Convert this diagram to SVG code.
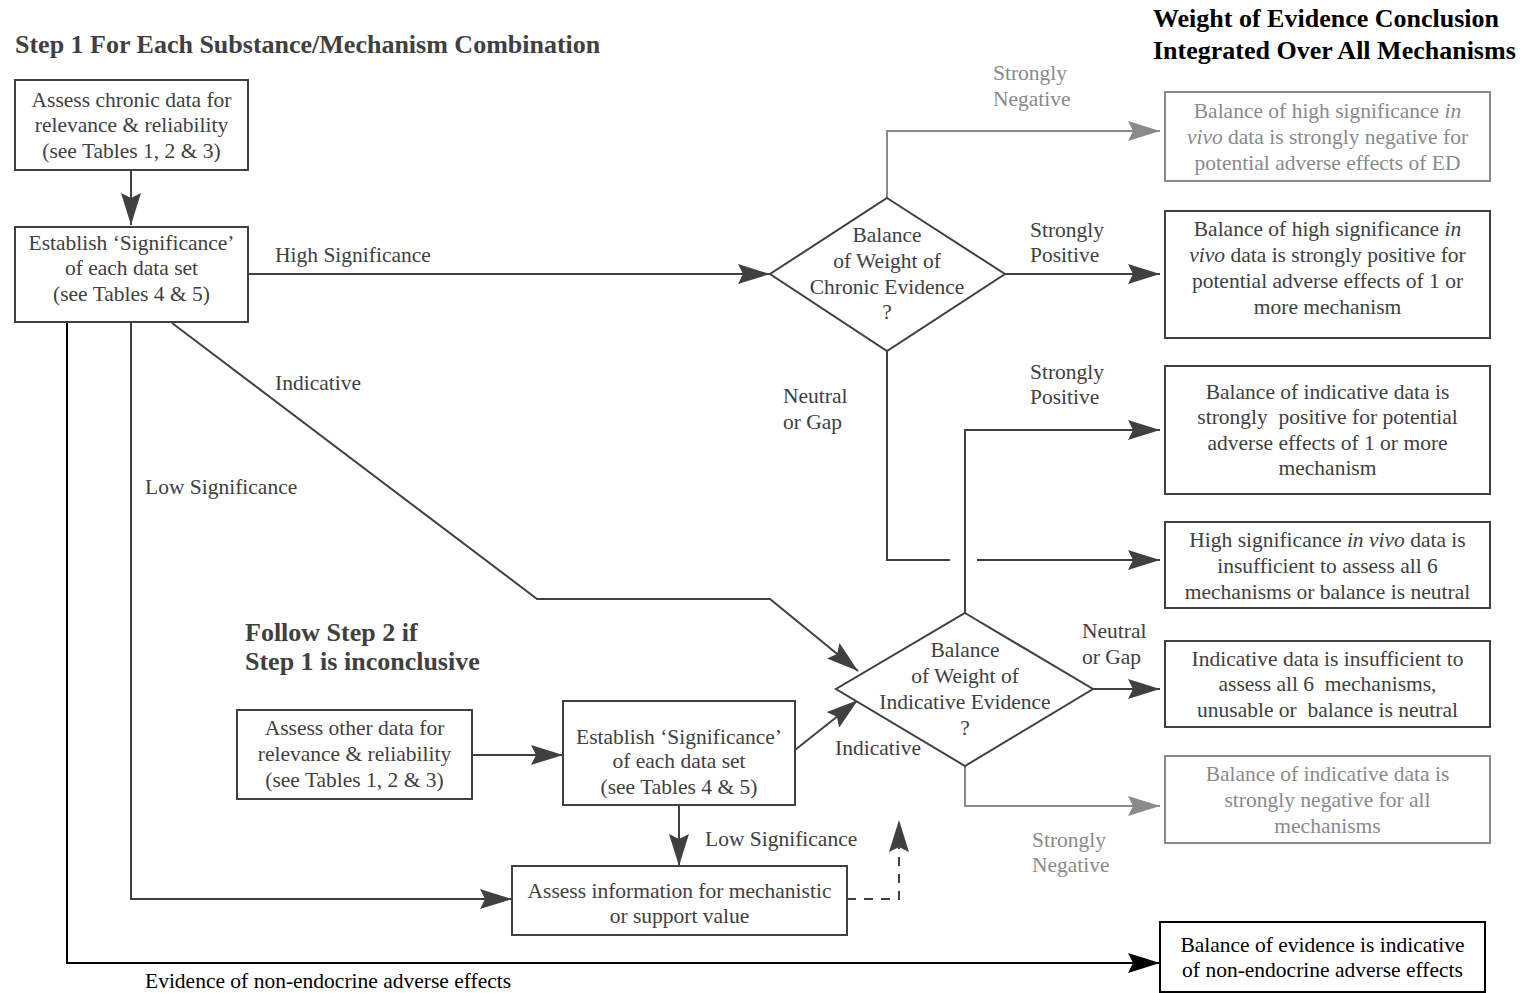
<svg xmlns="http://www.w3.org/2000/svg" width="1522" height="993" viewBox="0 0 1522 993">
<style>
text{font-family:"Liberation Serif","Times New Roman",serif;font-size:21.5px;fill:#404040}
.t{font-weight:bold;font-size:26px}
.c{text-anchor:middle}
.g{fill:#8a8a8a}
.k{fill:#000}
.box{fill:#fff;stroke:#404040;stroke-width:2}
.gbox{fill:#fff;stroke:#8a8a8a;stroke-width:2}
.kbox{fill:#fff;stroke:#000;stroke-width:2}
.ln{fill:none;stroke:#404040;stroke-width:2}
.gl{fill:none;stroke:#8a8a8a;stroke-width:2}
.kl{fill:none;stroke:#000;stroke-width:2}
.i{font-style:italic}
.p{white-space:pre}
</style>
<defs>
<marker id="a" viewBox="0 0 32 20" markerWidth="32" markerHeight="20" refX="32" refY="10" orient="auto" markerUnits="userSpaceOnUse"><path d="M0,0 L32,10 L0,20 L5,10 z" fill="#404040"/></marker>
<marker id="ag" viewBox="0 0 32 20" markerWidth="32" markerHeight="20" refX="32" refY="10" orient="auto" markerUnits="userSpaceOnUse"><path d="M0,0 L32,10 L0,20 L5,10 z" fill="#8a8a8a"/></marker>
<marker id="ak" viewBox="0 0 32 20" markerWidth="32" markerHeight="20" refX="32" refY="10" orient="auto" markerUnits="userSpaceOnUse"><path d="M0,0 L32,10 L0,20 L5,10 z" fill="#000"/></marker>
</defs>
<rect width="1522" height="993" fill="#fff"/>

<g id="titles">
<text class="t" x="15" y="53">Step 1 For Each Substance/Mechanism Combination</text>
<text class="t k" x="1153" y="27">Weight of Evidence Conclusion</text>
<text class="t k" x="1153" y="59">Integrated Over All Mechanisms</text>
<text class="t" x="245" y="641">Follow Step 2 if</text>
<text class="t" x="245" y="670">Step 1 is inconclusive</text>
</g>

<g id="connectors">
<path class="ln" d="M131,170 V225" marker-end="url(#a)"/>
<path class="ln" d="M248,274 H770" marker-end="url(#a)"/>
<path class="gl" d="M887,198 V131 H1160" marker-end="url(#ag)"/>
<path class="ln" d="M1005,274 H1160" marker-end="url(#a)"/>
<path class="ln" d="M887,351 V560 H950"/>
<path class="ln" d="M977,560 H1160" marker-end="url(#a)"/>
<path class="ln" d="M965,613 V430 H1160" marker-end="url(#a)"/>
<path class="ln" d="M1093,689 H1160" marker-end="url(#a)"/>
<path class="gl" d="M965,766 V806 H1160" marker-end="url(#ag)"/>
<path class="ln" d="M172,323 L537,599 H770 L858,671" marker-end="url(#a)"/>
<path class="ln" d="M131,322 V899 H512" marker-end="url(#a)"/>
<path class="kl" d="M67,322 V963 H1160" marker-end="url(#ak)"/>
<path class="ln" d="M472,755 H563" marker-end="url(#a)"/>
<path class="ln" d="M795,750 L858,700" marker-end="url(#a)"/>
<path class="ln" d="M679,805 V866" marker-end="url(#a)"/>
<path class="ln" d="M847,899 H899 V820" stroke-dasharray="9,8" marker-end="url(#a)"/>
</g>

<g id="labels">
<text x="275" y="262">High Significance</text>
<text class="g" x="993" y="80">Strongly</text>
<text class="g" x="993" y="106">Negative</text>
<text x="1030" y="237">Strongly</text>
<text x="1030" y="262">Positive</text>
<text x="783" y="403">Neutral</text>
<text x="783" y="429">or Gap</text>
<text x="1030" y="379">Strongly</text>
<text x="1030" y="404">Positive</text>
<text x="1082" y="638">Neutral</text>
<text x="1082" y="664">or Gap</text>
<text class="g" x="1032" y="847">Strongly</text>
<text class="g" x="1032" y="872">Negative</text>
<text x="275" y="390">Indicative</text>
<text x="145" y="494">Low Significance</text>
<text x="835" y="755">Indicative</text>
<text x="705" y="846">Low Significance</text>
<text class="k" x="145" y="988">Evidence of non-endocrine adverse effects</text>
</g>

<g id="assess-chronic">
<rect class="box" x="15" y="80" width="233" height="90"/>
<text class="c" x="131.5" y="107">Assess chronic data for</text>
<text class="c" x="131.5" y="132">relevance &amp; reliability</text>
<text class="c" x="131.5" y="158">(see Tables 1, 2 &amp; 3)</text>
</g>

<g id="establish-chronic">
<rect class="box" x="15" y="227" width="233" height="95"/>
<text class="c" x="131.5" y="250">Establish ‘Significance’</text>
<text class="c" x="131.5" y="275">of each data set</text>
<text class="c" x="131.5" y="301">(see Tables 4 &amp; 5)</text>
</g>

<g id="chronic-diamond">
<polygon class="box" points="887,198 1005,274 887,351 770,274"/>
<text class="c" x="887" y="242">Balance</text>
<text class="c" x="887" y="268">of Weight of</text>
<text class="c" x="887" y="294">Chronic Evidence</text>
<text class="c" x="887" y="319">?</text>
</g>

<g id="out-chronic-negative">
<rect class="gbox" x="1165" y="92" width="325" height="89"/>
<text class="c g" x="1327.5" y="118">Balance of high significance <tspan class="i">in</tspan></text>
<text class="c g" x="1327.5" y="144"><tspan class="i">vivo</tspan> data is strongly negative for</text>
<text class="c g" x="1327.5" y="170">potential adverse effects of ED</text>
</g>

<g id="out-chronic-positive">
<rect class="box" x="1165" y="211" width="325" height="127"/>
<text class="c" x="1327.5" y="236">Balance of high significance <tspan class="i">in</tspan></text>
<text class="c" x="1327.5" y="262"><tspan class="i">vivo</tspan> data is strongly positive for</text>
<text class="c" x="1327.5" y="288">potential adverse effects of 1 or</text>
<text class="c" x="1327.5" y="314">more mechanism</text>
</g>

<g id="out-indicative-positive">
<rect class="box" x="1165" y="366" width="325" height="128"/>
<text class="c" x="1327.5" y="399">Balance of indicative data is</text>
<text class="c p" x="1327.5" y="424">strongly  positive for potential</text>
<text class="c" x="1327.5" y="450">adverse effects of 1 or more</text>
<text class="c" x="1327.5" y="475">mechanism</text>
</g>

<g id="out-chronic-neutral">
<rect class="box" x="1165" y="522" width="325" height="86"/>
<text class="c" x="1327.5" y="547">High significance <tspan class="i">in vivo</tspan> data is</text>
<text class="c" x="1327.5" y="573">insufficient to assess all 6</text>
<text class="c" x="1327.5" y="599">mechanisms or balance is neutral</text>
</g>

<g id="indicative-diamond">
<polygon class="box" points="965,613 1093,689 965,766 836,689"/>
<text class="c" x="965" y="657">Balance</text>
<text class="c" x="965" y="683">of Weight of</text>
<text class="c" x="965" y="709">Indicative Evidence</text>
<text class="c" x="965" y="735">?</text>
</g>

<g id="out-indicative-neutral">
<rect class="box" x="1165" y="641" width="325" height="86"/>
<text class="c" x="1327.5" y="666">Indicative data is insufficient to</text>
<text class="c p" x="1327.5" y="691">assess all 6  mechanisms,</text>
<text class="c p" x="1327.5" y="717">unusable or  balance is neutral</text>
</g>

<g id="out-indicative-negative">
<rect class="gbox" x="1165" y="756" width="325" height="87"/>
<text class="c g" x="1327.5" y="781">Balance of indicative data is</text>
<text class="c g" x="1327.5" y="807">strongly negative for all</text>
<text class="c g" x="1327.5" y="833">mechanisms</text>
</g>

<g id="out-non-endocrine">
<rect class="kbox" x="1160" y="922" width="325" height="70"/>
<text class="c k" x="1322.5" y="952">Balance of evidence is indicative</text>
<text class="c k" x="1322.5" y="977">of non-endocrine adverse effects</text>
</g>

<g id="assess-other">
<rect class="box" x="237" y="710" width="235" height="89"/>
<text class="c" x="354.5" y="735">Assess other data for</text>
<text class="c" x="354.5" y="761">relevance &amp; reliability</text>
<text class="c" x="354.5" y="787">(see Tables 1, 2 &amp; 3)</text>
</g>

<g id="establish-other">
<rect class="box" x="563" y="701" width="232" height="104"/>
<text class="c" x="679" y="744">Establish ‘Significance’</text>
<text class="c" x="679" y="768">of each data set</text>
<text class="c" x="679" y="794">(see Tables 4 &amp; 5)</text>
</g>

<g id="assess-information">
<rect class="box" x="512" y="866" width="335" height="69"/>
<text class="c" x="679.5" y="898">Assess information for mechanistic</text>
<text class="c" x="679.5" y="923">or support value</text>
</g>
</svg>
